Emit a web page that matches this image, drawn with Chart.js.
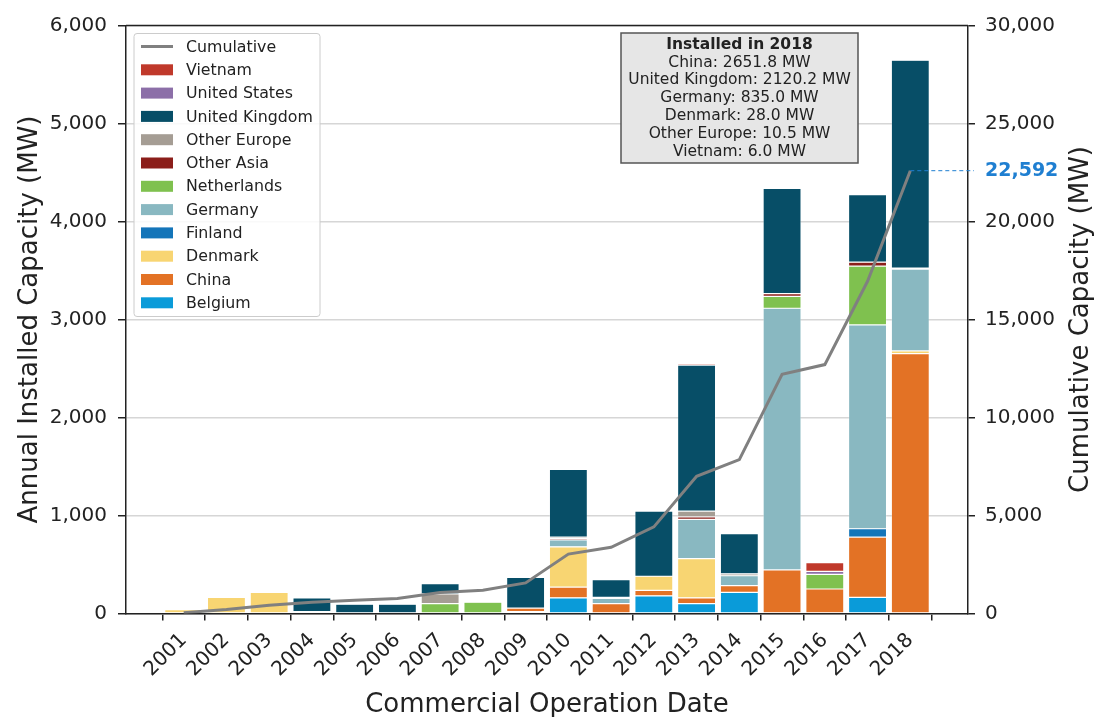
<!DOCTYPE html>
<html>
<head>
<meta charset="utf-8">
<script src="https://cdn.jsdelivr.net/npm/chart.js@4.4.1/dist/chart.umd.min.js"></script>
<style>
  html, body { margin: 0; padding: 0; background: #fff; }
  #wrap { width: 1096px; height: 717px; }
</style>
</head>
<body>
<div id="wrap"><canvas id="chart" width="1096" height="717"></canvas></div>
<script>
const years = [2001, 2002, 2003, 2004, 2005, 2006, 2007, 2008, 2009, 2010, 2011, 2012, 2013, 2014, 2015, 2016, 2017, 2018];

// annual installed capacity (MW)
const belgium     = [0, 0, 0, 0, 0, 0, 0, 0, 20, 160, 0, 180, 100, 215, 0, 0, 165, 0];
const china       = [0, 0, 0, 0, 0, 0, 0, 0, 35, 110, 100, 55, 60, 70, 445, 250, 615, 2651.8];
const denmark     = [40, 165, 215, 0, 0, 0, 0, 0, 0, 410, 0, 145, 400, 0, 0, 0, 0, 28.0];
const finland     = [0, 0, 0, 0, 0, 0, 0, 0, 0, 0, 0, 0, 0, 0, 0, 0, 85, 0];
const germany     = [0, 0, 0, 0, 0, 0, 0, 0, 0, 70, 55, 0, 400, 100, 2670, 0, 2080, 835.0];
const netherlands = [0, 0, 0, 0, 0, 0, 100, 115, 0, 0, 0, 0, 0, 0, 120, 150, 600, 0];
const otherAsia   = [0, 0, 0, 20, 0, 0, 0, 0, 0, 15, 0, 0, 25, 0, 30, 0, 40, 0];
const otherEurope = [0, 0, 0, 0, 0, 0, 100, 0, 0, 15, 10, 0, 60, 20, 0, 0, 0, 10.5];
const unitedKingdom = [0, 0, 0, 140, 95, 95, 105, 0, 313, 690, 180, 665, 1490, 410, 1073, 0, 690, 2120.2];
const unitedStates  = [0, 0, 0, 0, 0, 0, 0, 0, 0, 0, 0, 0, 0, 0, 0, 30, 0, 0];
const vietnam     = [0, 0, 0, 0, 0, 0, 0, 0, 0, 0, 0, 0, 15, 0, 0, 90, 0, 6.0];

// cumulative capacity (MW)
const cumulative = [40, 205, 420, 580, 675, 770, 1075, 1190, 1560, 3030, 3375, 4420, 7000, 7850, 12200, 12700, 16950, 22592];

const leftTicks = [0, 1000, 2000, 3000, 4000, 5000, 6000];
const rightTicks = [0, 5000, 10000, 15000, 20000, 25000, 30000];

const installed2018 = [
  "China: 2651.8 MW",
  "United Kingdom: 2120.2 MW",
  "Germany: 835.0 MW",
  "Denmark: 28.0 MW",
  "Other Europe: 10.5 MW",
  "Vietnam: 6.0 MW",
];

const FONT = "'DejaVu Sans', sans-serif";
const INK = "#222";

const series = [
  ["Belgium", belgium, "#0a9bd9"],
  ["China", china, "#e37225"],
  ["Denmark", denmark, "#f8d572"],
  ["Finland", finland, "#1475b9"],
  ["Germany", germany, "#89b8c1"],
  ["Netherlands", netherlands, "#7fc14f"],
  ["Other Asia", otherAsia, "#8b1e1a"],
  ["Other Europe", otherEurope, "#a59d94"],
  ["United Kingdom", unitedKingdom, "#074e67"],
  ["United States", unitedStates, "#8c6fa8"],
  ["Vietnam", vietnam, "#c0392b"],
];

const barSets = series.map(([label, values, color]) => ({
  type: "bar",
  label,
  data: years.map((y, i) => ({ x: y, y: values[i] })),
  backgroundColor: color,
  borderColor: "rgba(255,255,255,0.55)",
  borderWidth: 0.6,
  borderSkipped: false,
  barPercentage: 0.89,
  categoryPercentage: 1,
  yAxisID: "y",
  order: 1,
}));

const lineSet = {
  type: "line",
  label: "Cumulative",
  data: years.map((y, i) => ({ x: y, y: cumulative[i] })),
  borderColor: "#808080",
  borderWidth: 3,
  pointRadius: 0,
  tension: 0,
  yAxisID: "y1",
  order: 0,
};

const decorations = {
  id: "decorations",
  afterDraw(chart) {
    const { ctx, chartArea: a } = chart;
    const midY = (a.top + a.bottom) / 2;
    ctx.save();

    // top spine
    ctx.strokeStyle = INK;
    ctx.lineWidth = 1.5;
    ctx.beginPath();
    ctx.moveTo(a.left, a.top);
    ctx.lineTo(a.right, a.top);
    ctx.stroke();

    // legend box
    const lx = a.left + 8, ly = a.top + 8, lw = 186, lh = 283;
    ctx.fillStyle = "rgba(255,255,255,0.85)";
    ctx.strokeStyle = "#cccccc";
    ctx.lineWidth = 1;
    ctx.beginPath();
    ctx.roundRect(lx, ly, lw, lh, 3);
    ctx.fill();
    ctx.stroke();

    const rows = [["Cumulative", "#808080", true]].concat(
      series.slice().reverse().map(([label, , color]) => [label, color, false])
    );
    ctx.font = `15.8px ${FONT}`;
    ctx.textBaseline = "middle";
    ctx.textAlign = "left";
    rows.forEach(([label, color, isLine], i) => {
      const cy = ly + 13 + i * 23.3;
      if (isLine) {
        ctx.strokeStyle = color;
        ctx.lineWidth = 3;
        ctx.beginPath();
        ctx.moveTo(lx + 7, cy);
        ctx.lineTo(lx + 39, cy);
        ctx.stroke();
      } else {
        ctx.fillStyle = color;
        ctx.fillRect(lx + 7, cy - 5.5, 32, 11);
      }
      ctx.fillStyle = INK;
      ctx.fillText(label, lx + 52, cy + 1);
    });

    // 2018 annotation box
    const bx = 621, by = 33, bw = 237, bh = 130;
    ctx.fillStyle = "#e6e6e6";
    ctx.strokeStyle = "#555";
    ctx.lineWidth = 1.5;
    ctx.fillRect(bx, by, bw, bh);
    ctx.strokeRect(bx, by, bw, bh);
    ctx.textAlign = "center";
    ctx.fillStyle = INK;
    ctx.font = `bold 15.5px ${FONT}`;
    ctx.fillText("Installed in 2018", bx + bw / 2, by + 11.5);
    ctx.font = `15.5px ${FONT}`;
    installed2018.forEach((t, i) => {
      ctx.fillText(t, bx + bw / 2, by + 29.5 + i * 17.8);
    });

    // final cumulative marker
    const xs = chart.scales.x, y1 = chart.scales.y1;
    const last = cumulative[cumulative.length - 1];
    const px = xs.getPixelForValue(years[years.length - 1]);
    const py = y1.getPixelForValue(last);
    ctx.strokeStyle = "#1f7fd1";
    ctx.lineWidth = 1;
    ctx.setLineDash([4, 3]);
    ctx.beginPath();
    ctx.moveTo(px, py);
    ctx.lineTo(a.right + 6, py);
    ctx.stroke();
    ctx.setLineDash([]);
    ctx.fillStyle = "#1f7fd1";
    ctx.font = `bold 19px ${FONT}`;
    ctx.textAlign = "left";
    ctx.fillText(last.toLocaleString("en-US"), a.right + 17, py);

    // axis titles
    ctx.fillStyle = INK;
    ctx.font = `26px ${FONT}`;
    ctx.textAlign = "center";
    ctx.textBaseline = "middle";
    ctx.translate(30, midY);
    ctx.rotate(-Math.PI / 2);
    ctx.fillText("Annual Installed Capacity (MW)", 0, 0);
    ctx.setTransform(1, 0, 0, 1, 0, 0);
    ctx.translate(1081, midY);
    ctx.rotate(-Math.PI / 2);
    ctx.fillText("Cumulative Capacity (MW)", 0, 0);
    ctx.setTransform(1, 0, 0, 1, 0, 0);

    ctx.textBaseline = "alphabetic";
    ctx.fillText("Commercial Operation Date", (a.left + a.right) / 2, 712);
    ctx.restore();
  },
};

new Chart(document.getElementById("chart").getContext("2d"), {
  data: { datasets: [...barSets, lineSet] },
  options: {
    responsive: false,
    animation: false,
    devicePixelRatio: 1,
    layout: { padding: { top: 25.5, left: 0, right: 0, bottom: 0 } },
    plugins: { legend: { display: false }, tooltip: { enabled: false } },
    scales: {
      x: {
        type: "linear",
        stacked: true,
        offset: false,
        min: 1999.65,
        max: 2019.35,
        afterBuildTicks: (s) => { s.ticks = years.map((v) => ({ value: v })); },
        afterFit: (s) => { s.height = 103.5; },
        ticks: {
          autoSkip: false,
          minRotation: 45,
          maxRotation: 45,
          padding: 8,
          color: INK,
          font: { family: FONT, size: 20 },
          callback: (v) => String(v),
        },
        grid: { drawOnChartArea: false, tickColor: INK, tickLength: 7, lineWidth: 1.5 },
        border: { display: true, color: INK, width: 1.5 },
      },
      y: {
        position: "left",
        stacked: true,
        min: 0,
        max: 6000,
        afterBuildTicks: (s) => { s.ticks = leftTicks.map((v) => ({ value: v })); },
        afterFit: (s) => { s.width = 126; },
        ticks: {
          padding: 11,
          color: INK,
          font: { family: FONT, size: 20 },
          callback: (v) => v.toLocaleString("en-US"),
        },
        grid: { color: "#d6d6d6", lineWidth: 1.5, tickColor: INK, tickLength: 8 },
        border: { display: true, color: INK, width: 1.5 },
      },
      y1: {
        position: "right",
        min: 0,
        max: 30000,
        afterBuildTicks: (s) => { s.ticks = rightTicks.map((v) => ({ value: v })); },
        afterFit: (s) => { s.width = 128; },
        ticks: {
          padding: 10,
          color: INK,
          font: { family: FONT, size: 20 },
          callback: (v) => v.toLocaleString("en-US"),
        },
        grid: { drawOnChartArea: false, tickColor: INK, tickLength: 7, lineWidth: 1.5 },
        border: { display: true, color: INK, width: 1.5 },
      },
    },
  },
  plugins: [decorations],
});
</script>
</body>
</html>
